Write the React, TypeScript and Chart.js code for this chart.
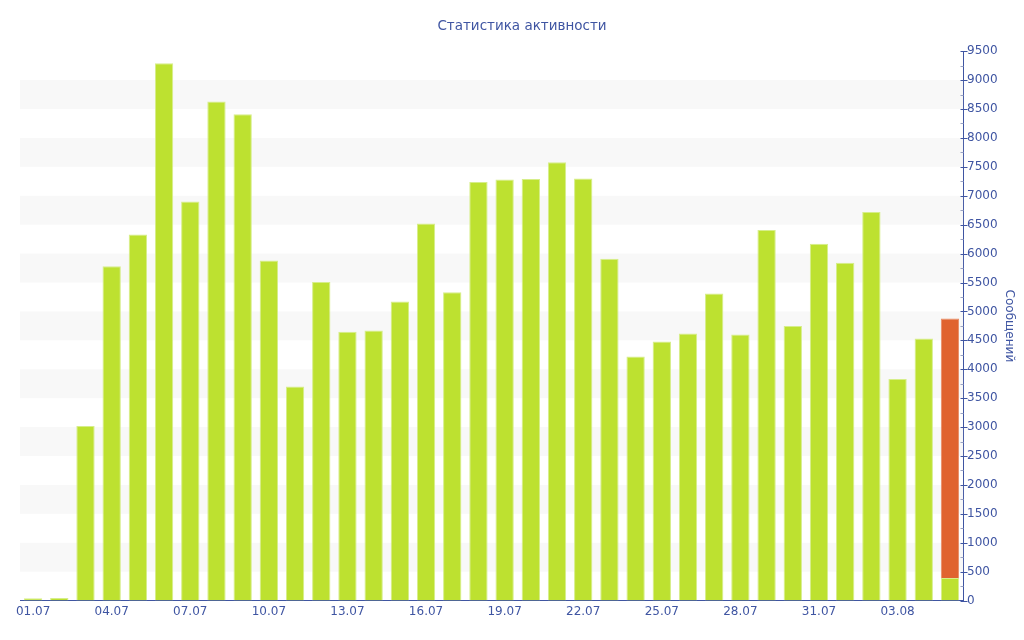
import { useEffect, useRef } from 'react';
import { Chart, registerables } from 'chart.js';

Chart.register(...registerables);

const days: string[] = [
  '01.07', '02.07', '03.07', '04.07', '05.07', '06.07', '07.07', '08.07', '09.07', '10.07',
  '11.07', '12.07', '13.07', '14.07', '15.07', '16.07', '17.07', '18.07', '19.07', '20.07',
  '21.07', '22.07', '23.07', '24.07', '25.07', '26.07', '27.07', '28.07', '29.07', '30.07',
  '31.07', '01.08', '02.08', '03.08', '04.08', '05.08'
];

const messages: number[] = [
  40, 45, 3020, 5780, 6330, 9290, 6900, 8630, 8410, 5880,
  3700, 5510, 4650, 4670, 5170, 6520, 5330, 7240, 7280, 7290,
  7580, 7300, 5910, 4220, 4480, 4620, 5310, 4600, 6410, 4750,
  6170, 5840, 6720, 3830, 4530, 390
];

// today's part, only the last day
const todayMessages: (number | null)[] = [
  null, null, null, null, null, null, null, null, null, null,
  null, null, null, null, null, null, null, null, null, null,
  null, null, null, null, null, null, null, null, null, null,
  null, null, null, null, null, 4490
];

const yTicks: number[] = [0, 500, 1000, 1500, 2000, 2500, 3000, 3500, 4000, 4500, 5000,
  5500, 6000, 6500, 7000, 7500, 8000, 8500, 9000, 9500];

const blue = '#3f55a2';
const fontFamily = '"DejaVu Sans", Verdana, sans-serif';

const bandsPlugin = {
  id: 'bands',
  beforeDatasetsDraw(chart: any) {
    const { ctx, chartArea } = chart;
    const y = chart.scales.y;
    ctx.save();
    ctx.fillStyle = '#f8f8f8';
    for (let i = 1; i < yTicks.length - 1; i += 2) {
      const top = y.getPixelForValue(yTicks[i + 1]);
      const bottom = y.getPixelForValue(yTicks[i]);
      ctx.fillRect(chartArea.left, top, chartArea.right - chartArea.left, bottom - top);
    }
    ctx.restore();
  },
  afterDraw(chart: any) {
    // major ticks cross the axis, minor ticks sit inside
    const { ctx, chartArea } = chart;
    const y = chart.scales.y;
    const ax = Math.round(chartArea.right) + 0.5;
    ctx.save();
    ctx.lineWidth = 1;
    ctx.strokeStyle = blue;
    for (const v of yTicks) {
      const py = Math.round(y.getPixelForValue(v)) + 0.5;
      ctx.beginPath();
      ctx.moveTo(ax - 3, py);
      ctx.lineTo(ax + 4, py);
      ctx.stroke();
    }
    ctx.strokeStyle = '#9aa3c4';
    for (let i = 0; i < yTicks.length - 1; i++) {
      const py = Math.round(y.getPixelForValue((yTicks[i] + yTicks[i + 1]) / 2)) + 0.5;
      ctx.beginPath();
      ctx.moveTo(ax - 3, py);
      ctx.lineTo(ax, py);
      ctx.stroke();
    }
    ctx.restore();
  }
};

export default function App() {
  const chartRef = useRef<HTMLCanvasElement | null>(null);
  const chartInstance = useRef<Chart | null>(null);

  useEffect(() => {
    document.body.style.margin = '0';
    if (!chartRef.current) return;
    if (chartInstance.current) {
      chartInstance.current.destroy();
    }
    const ctx = chartRef.current.getContext('2d');
    if (!ctx) return;

    chartInstance.current = new Chart(ctx, {
      type: 'bar',
      data: {
        labels: days,
        datasets: [
          {
            label: 'Сообщений',
            data: messages,
            backgroundColor: '#bde130',
            borderColor: '#d6ee8a',
            borderWidth: { top: 1, left: 1, right: 1, bottom: 0 },
            barPercentage: 0.7,
            categoryPercentage: 1
          },
          {
            label: 'Сегодня',
            data: todayMessages,
            backgroundColor: '#e0632f',
            borderColor: '#e98a62',
            borderWidth: { top: 1, left: 1, right: 1, bottom: 0 },
            barPercentage: 0.7,
            categoryPercentage: 1
          }
        ]
      },
      options: {
        responsive: true,
        maintainAspectRatio: false,
        animation: false,
        layout: { padding: { left: 20, right: 0, top: 0, bottom: 17 } },
        scales: {
          x: {
            stacked: true,
            grid: { display: false, drawTicks: false, tickLength: 0 },
            border: { color: blue, width: 1 },
            ticks: {
              autoSkip: false,
              maxRotation: 0,
              color: blue,
              font: { family: fontFamily, size: 12 },
              padding: 4,
              callback: (_v: any, i: number) => (i % 3 === 0 ? days[i] : '')
            }
          },
          y: {
            stacked: true,
            position: 'right',
            min: 0,
            max: 9500,
            grid: { display: false, drawTicks: false, tickLength: 0 },
            border: { color: blue, width: 1 },
            afterBuildTicks: (scale: any) => {
              scale.ticks = yTicks.map((v) => ({ value: v }));
            },
            ticks: {
              color: blue,
              font: { family: fontFamily, size: 12 },
              padding: 4,
              callback: (v: any) => String(v)
            },
            title: {
              display: true,
              text: 'Сообщений',
              color: blue,
              font: { family: fontFamily, size: 12 },
              padding: { top: 8, bottom: 0 }
            }
          }
        },
        plugins: {
          legend: { display: false },
          tooltip: { enabled: false },
          title: {
            display: true,
            text: 'Статистика активности',
            color: blue,
            font: { family: fontFamily, size: 13.5, weight: 'normal' },
            padding: { top: 18, bottom: 17 }
          }
        }
      },
      plugins: [bandsPlugin]
    });

    return () => {
      if (chartInstance.current) {
        chartInstance.current.destroy();
        chartInstance.current = null;
      }
    };
  }, []);

  return (
    <div style={{ width: 1024, height: 640, position: 'relative' }}>
      <canvas ref={chartRef}></canvas>
    </div>
  );
}
